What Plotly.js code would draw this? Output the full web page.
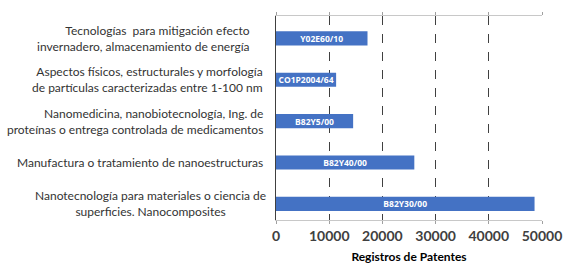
<!DOCTYPE html>
<html><head><meta charset="utf-8">
<script src="https://cdn.plot.ly/plotly-3.0.1.min.js"></script>
<style>html,body{margin:0;padding:0;background:#fff;}#chart{width:578px;height:277px;}</style>
</head><body><div id="chart"></div>
<script>
const categories = [
  "Tecnologías  para mitigación efecto<br>invernadero, almacenamiento de energía",
  "Aspectos físicos, estructurales y morfología<br>de partículas caracterizadas entre 1-100 nm",
  "Nanomedicina, nanobiotecnología, Ing. de<br>proteínas o entrega controlada de medicamentos",
  "Manufactura o tratamiento de nanoestructuras",
  "Nanotecnología para materiales o ciencia de<br>superficies. Nanocomposites"
];
const codes = ["Y02E60/10", "CO1P2004/64", "B82Y5/00", "B82Y40/00", "B82Y30/00"];
const values = [17200, 11300, 14500, 26000, 48600];
const xTicks = [0, 10000, 20000, 30000, 40000, 50000];
const xTitle = "Registros de Patentes";

const L = 276, W = 266;
const labelStyle = [
  {px: 252, anchor: "right", align: "right"},
  {px: 265, anchor: "right", align: "right"},
  {px: 265, anchor: "right", align: "right"},
  {px: 265, anchor: "right", align: "right"},
  {px: 150, anchor: "center", align: "center"}
];
const annotations = categories.map((c, i) => ({
  text: c, xref: "paper", yref: "y", x: (labelStyle[i].px - L) / W, y: i,
  xanchor: labelStyle[i].anchor, align: labelStyle[i].align, showarrow: false,
  font: {family: "Lato, 'Open Sans', sans-serif", size: 12, color: "#333333"}
}));

const trace = {
  type: "bar", orientation: "h",
  x: values, y: categories.map((c, i) => i),
  width: 0.34,
  marker: {color: "#4472C4"},
  text: codes, textposition: "inside", insidetextanchor: "middle", constraintext: "none",
  textfont: {family: "'Open Sans', sans-serif", size: 8.5, color: "#ffffff", weight: "bold"},
  hoverinfo: "none"
};

const layout = {
  width: 578, height: 277,
  margin: {l: L, r: 578 - L - W, t: 16, b: 57},
  paper_bgcolor: "#fff", plot_bgcolor: "#fff",
  showlegend: false,
  xaxis: {
    range: [0, 50000], tickvals: xTicks, ticktext: xTicks.map(String),
    showgrid: true, gridcolor: "#404040", griddash: "dash", gridwidth: 1,
    zeroline: false, showline: true, linecolor: "#c8c8c8", linewidth: 1, mirror: "all",
    ticks: "outside", ticklen: 3, tickcolor: "#a0a0a0",
    tickfont: {family: "Lato, 'Open Sans', sans-serif", size: 14, color: "#404040", weight: "bold"},
    title: {text: xTitle, standoff: 9, font: {family: "Lato, 'Open Sans', sans-serif", size: 12, color: "#000", weight: "bold"}},
    fixedrange: true
  },
  yaxis: {
    range: [4.39, -0.54], showticklabels: false, showgrid: false, zeroline: false,
    showline: true, linecolor: "#404040", linewidth: 1, ticks: "", fixedrange: true
  },
  annotations: annotations
};

Plotly.newPlot("chart", [trace], layout, {displayModeBar: false, staticPlot: true});
</script>
</body></html>
